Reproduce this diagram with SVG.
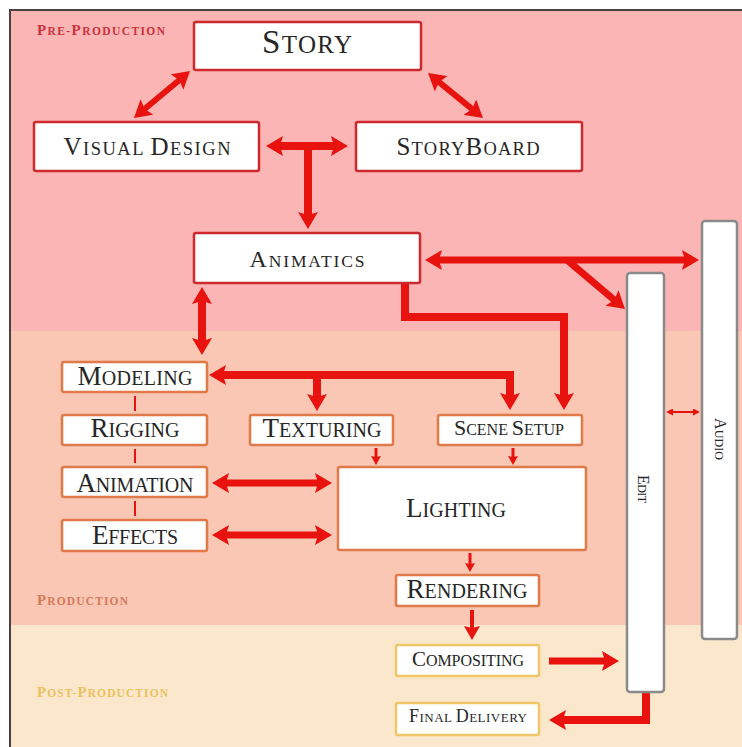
<svg xmlns="http://www.w3.org/2000/svg" width="742" height="747" viewBox="0 0 742 747">
<defs>
<style>
.t{font-family:"Liberation Serif","Times New Roman",serif;fill:#262626;text-anchor:middle}
.lb{font-family:"Liberation Serif","Times New Roman",serif;font-weight:bold}
.pre{fill:#fff;stroke:#cc2a2e;stroke-width:2.5}
.prod{fill:#fff;stroke:#e07a48;stroke-width:2.5}
.post{fill:#fff;stroke:#f0c768;stroke-width:2.5}
.gry{fill:#fff;stroke:#8a8a8a;stroke-width:2.5}
.a{fill:none;stroke:#e8120f}
</style>
<marker id="mb" viewBox="0 0 17 20" markerWidth="17" markerHeight="20" refX="9" refY="10" orient="auto-start-reverse" markerUnits="userSpaceOnUse"><path d="M0,0 L17,10 L0,20 L3,10 z" fill="#e8120f"/></marker>
<marker id="mm" viewBox="0 0 14 16" markerWidth="14" markerHeight="16" refX="7" refY="8" orient="auto-start-reverse" markerUnits="userSpaceOnUse"><path d="M0,0 L14,8 L0,16 L2,8 z" fill="#e8120f"/></marker>
<marker id="ms" viewBox="0 0 9 10" markerWidth="9" markerHeight="10" refX="4" refY="5" orient="auto-start-reverse" markerUnits="userSpaceOnUse"><path d="M0,0 L9,5 L0,10 L1,5 z" fill="#e8120f"/></marker>
<marker id="mt" viewBox="0 0 7 7" markerWidth="7" markerHeight="7" refX="3" refY="3.5" orient="auto-start-reverse" markerUnits="userSpaceOnUse"><path d="M0,0 L7,3.5 L0,7 z" fill="#e8120f"/></marker>
</defs>

<g id="background">
<rect x="10" y="10" width="740" height="321" fill="#fbb5b5"/>
<rect x="10" y="331" width="740" height="294" fill="#f9c7b3"/>
<rect x="10" y="625" width="740" height="130" fill="#fbe8cc"/>
<path d="M10,760 L10,10 L760,10" fill="none" stroke="#4a4040" stroke-width="2"/>
<text class="lb" x="37" y="35" font-size="11.5" fill="#c8323c" textLength="128"><tspan font-size="15">P</tspan>RE-<tspan font-size="15">P</tspan>RODUCTION</text>
<text class="lb" x="37" y="605" font-size="11.5" fill="#d47a5c" textLength="91"><tspan font-size="15">P</tspan>RODUCTION</text>
<text class="lb" x="37" y="697" font-size="11.5" fill="#e9c25e" textLength="131"><tspan font-size="15">P</tspan>OST-<tspan font-size="15">P</tspan>RODUCTION</text>
</g>

<g id="connectors">
<line class="a" x1="183.9" y1="76.2" x2="140.1" y2="112.8" stroke-width="6" marker-start="url(#mb)" marker-end="url(#mb)"/>
<line class="a" x1="434.2" y1="78.1" x2="476.8" y2="112.9" stroke-width="6" marker-start="url(#mb)" marker-end="url(#mb)"/>
<line class="a" x1="274" y1="146" x2="340" y2="146" stroke-width="8" marker-start="url(#mb)" marker-end="url(#mb)"/>
<line class="a" x1="308" y1="146" x2="308" y2="221" stroke-width="8" marker-end="url(#mb)"/>
<line class="a" x1="202" y1="295" x2="202" y2="347" stroke-width="8" marker-start="url(#mb)" marker-end="url(#mb)"/>
<line class="a" x1="433" y1="260" x2="691" y2="260" stroke-width="7" marker-start="url(#mb)" marker-end="url(#mb)"/>
<line class="a" x1="567" y1="260" x2="618.9" y2="303.8" stroke-width="7" marker-end="url(#mb)"/>
<path class="a" d="M405,283 L405,317 L564,317 L564,402" stroke-width="8" marker-end="url(#mb)"/>
<path class="a" d="M510,402 L510,375 L217,375" stroke-width="8" marker-start="url(#mb)" marker-end="url(#mb)"/>
<line class="a" x1="317" y1="375" x2="317" y2="403" stroke-width="8" marker-end="url(#mb)"/>
<line class="a" x1="376" y1="448" x2="376" y2="460" stroke-width="3" marker-end="url(#ms)"/>
<line class="a" x1="513" y1="448" x2="513" y2="460" stroke-width="3" marker-end="url(#ms)"/>
<line class="a" x1="220" y1="483" x2="324" y2="483" stroke-width="7" marker-start="url(#mb)" marker-end="url(#mb)"/>
<line class="a" x1="220" y1="535" x2="324" y2="535" stroke-width="7" marker-start="url(#mb)" marker-end="url(#mb)"/>
<line class="a" x1="470" y1="553" x2="470" y2="567" stroke-width="3" marker-end="url(#ms)"/>
<line class="a" x1="472" y1="610" x2="472" y2="633" stroke-width="4" marker-end="url(#mm)"/>
<line class="a" x1="549" y1="661" x2="611" y2="661" stroke-width="7" marker-end="url(#mb)"/>
<path class="a" d="M646,693 L646,720 L557,720" stroke-width="8" marker-end="url(#mb)"/>
<line class="a" x1="670" y1="412" x2="696" y2="412" stroke-width="2" marker-start="url(#mt)" marker-end="url(#mt)"/>
<line class="a" x1="135" y1="396" x2="135" y2="411" stroke-width="2"/>
<line class="a" x1="135" y1="449" x2="135" y2="463" stroke-width="2"/>
<line class="a" x1="135" y1="501" x2="135" y2="516" stroke-width="2"/>
</g>

<g id="story"><rect class="pre" x="194" y="22" width="227" height="48" rx="2"/>
<text class="t" x="307" y="53" font-size="25" textLength="90"><tspan font-size="33">S</tspan>TORY</text></g>
<g id="visual-design"><rect class="pre" x="34" y="122" width="225" height="49" rx="2"/>
<text class="t" x="147" y="155" font-size="18.5" textLength="167"><tspan font-size="25">V</tspan>ISUAL <tspan font-size="25">D</tspan>ESIGN</text></g>
<g id="storyboard"><rect class="pre" x="356" y="122" width="226" height="49" rx="2"/>
<text class="t" x="468" y="155" font-size="18.5" textLength="143"><tspan font-size="25">S</tspan>TORY<tspan font-size="25">B</tspan>OARD</text></g>
<g id="animatics"><rect class="pre" x="194" y="233" width="226" height="50" rx="2"/>
<text class="t" x="307" y="267" font-size="17.5" textLength="115"><tspan font-size="24">A</tspan>NIMATICS</text></g>

<g id="modeling"><rect class="prod" x="62" y="362" width="145" height="30" rx="2"/>
<text class="t" x="135" y="385" font-size="20" textLength="115"><tspan font-size="27">M</tspan>ODELING</text></g>
<g id="rigging"><rect class="prod" x="62" y="415" width="145" height="30" rx="2"/>
<text class="t" x="135" y="437" font-size="20" textLength="89"><tspan font-size="27">R</tspan>IGGING</text></g>
<g id="texturing"><rect class="prod" x="250" y="415" width="143" height="30" rx="2"/>
<text class="t" x="322" y="437" font-size="20" textLength="119"><tspan font-size="27">T</tspan>EXTURING</text></g>
<g id="scene-setup"><rect class="prod" x="438" y="415" width="144" height="30" rx="2"/>
<text class="t" x="509" y="435" font-size="16" textLength="110"><tspan font-size="22">S</tspan>CENE <tspan font-size="22">S</tspan>ETUP</text></g>
<g id="animation"><rect class="prod" x="62" y="467" width="145" height="30" rx="2"/>
<text class="t" x="135" y="492" font-size="20" textLength="117"><tspan font-size="27">A</tspan>NIMATION</text></g>
<g id="effects"><rect class="prod" x="62" y="520" width="145" height="31" rx="2"/>
<text class="t" x="135" y="544" font-size="20" textLength="86"><tspan font-size="27">E</tspan>FFECTS</text></g>
<g id="lighting"><rect class="prod" x="338" y="467" width="248" height="83" rx="2"/>
<text class="t" x="456" y="517" font-size="20" textLength="100"><tspan font-size="27">L</tspan>IGHTING</text></g>
<g id="rendering"><rect class="prod" x="396" y="575" width="143" height="31" rx="2"/>
<text class="t" x="467" y="598" font-size="20" textLength="121"><tspan font-size="27">R</tspan>ENDERING</text></g>

<g id="compositing"><rect class="post" x="396" y="645" width="143" height="31" rx="2"/>
<text class="t" x="468" y="666" font-size="16" textLength="112"><tspan font-size="21">C</tspan>OMPOSITING</text></g>
<g id="final-delivery"><rect class="post" x="396" y="703" width="143" height="32" rx="2"/>
<text class="t" x="468" y="722" font-size="13" textLength="118"><tspan font-size="18">F</tspan>INAL <tspan font-size="18">D</tspan>ELIVERY</text></g>

<g id="edit"><rect class="gry" x="627" y="273" width="37" height="419" rx="3"/>
<text class="t" transform="translate(643,489) rotate(90)" x="0" y="5" font-size="12" textLength="28"><tspan font-size="16">E</tspan>DIT</text></g>
<g id="audio"><rect class="gry" x="702" y="221" width="35" height="418" rx="3"/>
<text class="t" transform="translate(720,439) rotate(90)" x="0" y="5" font-size="12" textLength="42"><tspan font-size="16">A</tspan>UDIO</text></g>
</svg>
